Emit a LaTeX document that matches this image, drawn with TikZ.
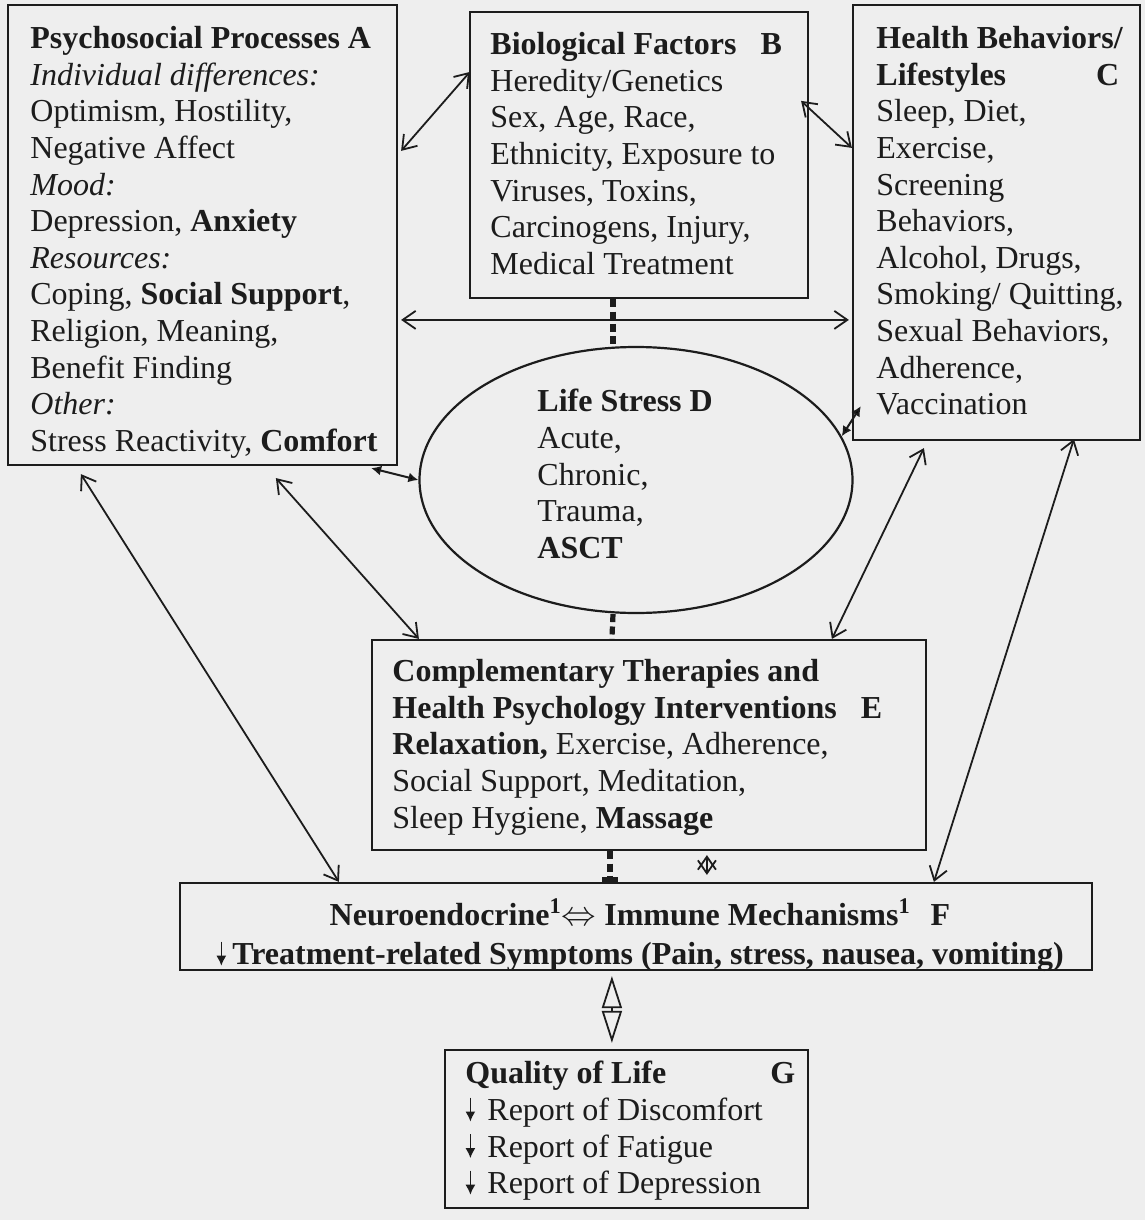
\documentclass[tikz,border=0pt]{standalone}
\usepackage{fontspec}
\setmainfont{Liberation Serif}
\usetikzlibrary{arrows.meta,calc,fit,shapes.geometric}
\definecolor{paper}{RGB}{238,238,238}
\definecolor{ink}{RGB}{28,28,28}
\newcommand{\dnarr}{\tikz[baseline=0pt]\draw[ink,line width=0.8pt,-{Latex[length=5pt,width=5pt]}] (0pt,11.5pt) -- (0pt,-0.5pt);}

\begin{document}
\begin{tikzpicture}[x=0.5pt,y=-0.5pt,
  box/.style={draw=ink,line width=1.1pt,inner sep=0pt},
  txt/.style={inner sep=0pt,anchor=north west,align=left,text=ink,font=\fontsize{16}{18.3}\selectfont},
  link/.style={draw=ink,line width=0.9pt,{Straight Barb[length=6.5pt,width=9pt]}-{Straight Barb[length=6.5pt,width=9pt]}},
  solidlink/.style={draw=ink,line width=1pt,{Latex[length=5pt,width=5pt]}-{Latex[length=5pt,width=5pt]}},
  dotline/.style={draw=ink,line width=2.6pt,dash pattern=on 4pt off 2.2pt}]
\fill[paper] (0,0) rectangle (1145,1220);

% boxes
\node[box,fit={(8,5) (397,465)}] (procA) {};
\node[box,fit={(470,12) (808,298)}] (bioB) {};
\node[box,fit={(853,5) (1140,440)}] (behC) {};
\node[box,ellipse,minimum width=216.5pt,minimum height=133pt] (lifeD) at (636,480) {};
\node[box,fit={(372,640) (926,850)}] (therE) {};
\node[box,fit={(180,883) (1092,970)}] (mechF) {};
\node[box,fit={(445,1050) (808,1208)}] (qolG) {};

% texts
\node[txt] (procAtxt) at (30,26) {\textbf{Psychosocial Processes A}\\
  \textit{Individual differences:}\\
  Optimism, Hostility,\\
  Negative Affect\\
  \textit{Mood:}\\
  Depression, \textbf{Anxiety}\\
  \textit{Resources:}\\
  Coping, \textbf{Social Support},\\
  Religion, Meaning,\\
  Benefit Finding\\
  \textit{Other:}\\
  Stress Reactivity, \textbf{Comfort}};
\node[txt] (bioBtxt) at (490,32) {\textbf{Biological Factors\hspace{12pt}B}\\
  Heredity/Genetics\\
  Sex, Age, Race,\\
  Ethnicity, Exposure to\\
  Viruses, Toxins,\\
  Carcinogens, Injury,\\
  Medical Treatment};
\node[txt] (behCtxt) at (876,26) {\textbf{Health Behaviors/}\\
  \textbf{Lifestyles\hspace{45pt}C}\\
  Sleep, Diet,\\
  Exercise,\\
  Screening\\
  Behaviors,\\
  Alcohol, Drugs,\\
  Smoking/ Quitting,\\
  Sexual Behaviors,\\
  Adherence,\\
  Vaccination};
\node[txt] (lifeDtxt) at (537,389) {\textbf{Life Stress D}\\
  Acute,\\
  Chronic,\\
  Trauma,\\
  \textbf{ASCT}};
\node[txt] (therEtxt) at (392,659) {\textbf{Complementary Therapies and}\\
  \textbf{Health Psychology Interventions\hspace{12pt}E}\\
  \textbf{Relaxation,} Exercise, Adherence,\\
  Social Support, Meditation,\\
  Sleep Hygiene, \textbf{Massage}};
\node[txt,anchor=north,align=center] (mechFtxt) at (640,898) {\textbf{Neuroendocrine\textsuperscript{1}$\Leftrightarrow$ Immune Mechanisms\textsuperscript{1}\hspace{10pt}F}\\[1.2pt]
  \dnarr\hspace{3pt}\textbf{Treatment-related Symptoms (Pain, stress, nausea, vomiting)}};
\node[txt] (qolGtxt) at (465,1061) {\textbf{Quality of Life\hspace{52pt}G}\\
  \dnarr\hspace{6pt}Report of Discomfort\\
  \dnarr\hspace{6pt}Report of Fatigue\\
  \dnarr\hspace{6pt}Report of Depression};

% links
\draw[link] ($(procA.north east)+(3,147)$) -- ($(bioB.north west)+(1,61)$);
\draw[link] ($(bioB.north east)+(-8,90)$) -- ($(behC.north west)+(0,144)$);
\draw[link] ($(procA.north east)+(3,316)$) -- ($(behC.north west)+(-3,316)$);
\draw[solidlink] ($(procA.south east)+(-27,2)$) -- (lifeD.west);
\draw[solidlink] (lifeD.12) -- ($(behC.south west)+(9,-35)$);
\draw[link] ($(procA.south west)+(74,8)$) -- ($(mechF.north west)+(160,0)$);
\draw[link] ($(procA.south west)+(269,12)$) -- ($(therE.north west)+(48,0)$);
\draw[link] ($(behC.south west)+(72,7)$) -- ($(therE.north west)+(461,0)$);
\draw[link] ($(behC.south west)+(222,-2)$) -- ($(mechF.north west)+(755,0)$);
\draw[link] ($(therE.south west)+(336,4)$) -- ($(mechF.north west)+(528,-7)$);
\draw[draw=ink,line width=0.9pt,{Triangle[open,length=16pt,width=10pt]}-{Triangle[open,length=16pt,width=10pt]}] ($(mechF.south west)+(433,5)$) -- ($(qolG.north west)+(168,-6)$);

% dotted joins
\draw[dotline] ($(bioB.south)+(-26,0)$) -- ($(lifeD.north)+(-23,0)$);
\draw[dotline] ($(lifeD.south)+(-23,0)$) -- ($(therE.north west)+(241,0)$);
\draw[dotline,-{Rectangle[length=2.5pt,width=8pt]}] ($(therE.south west)+(239,0)$) -- ($(mechF.north west)+(431,0)$);
\end{tikzpicture}
\end{document}
